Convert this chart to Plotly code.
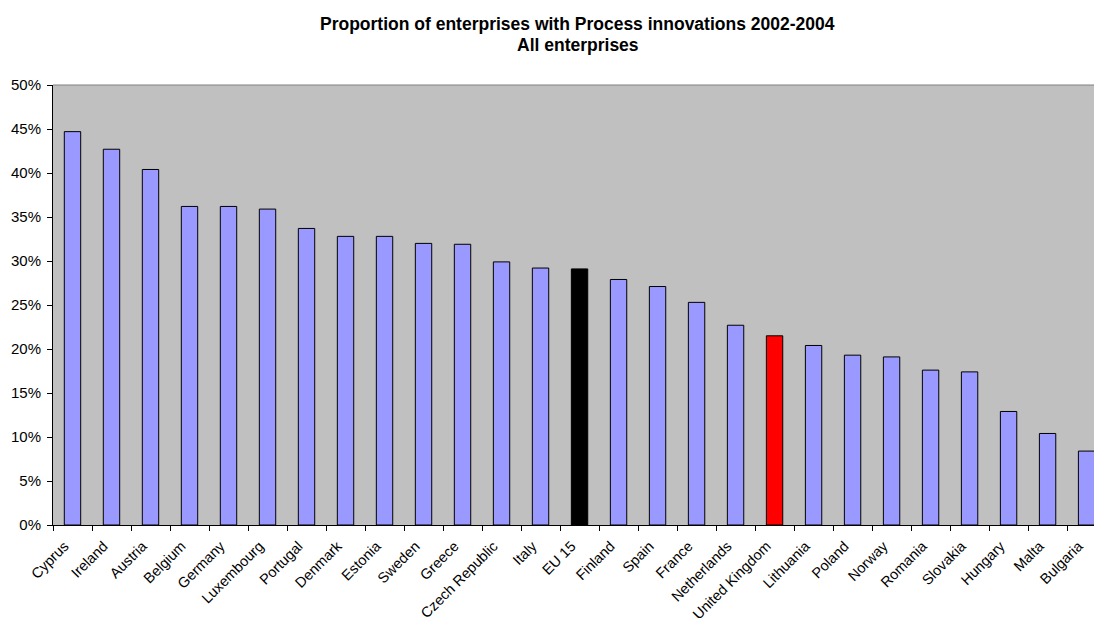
import plotly.graph_objects as go

countries = ["Cyprus", "Ireland", "Austria", "Belgium", "Germany", "Luxembourg",
             "Portugal", "Denmark", "Estonia", "Sweden", "Greece", "Czech Republic",
             "Italy", "EU 15", "Finland", "Spain", "France", "Netherlands",
             "United Kingdom", "Lithuania", "Poland", "Norway", "Romania",
             "Slovakia", "Hungary", "Malta", "Bulgaria"]
share = [0.447, 0.427, 0.404, 0.362, 0.362, 0.359,
         0.337, 0.328, 0.328, 0.320, 0.319, 0.299,
         0.292, 0.291, 0.279, 0.271, 0.253, 0.227,
         0.215, 0.204, 0.193, 0.191, 0.176,
         0.174, 0.129, 0.104, 0.084]
y_ticks = [0, 0.05, 0.10, 0.15, 0.20, 0.25, 0.30, 0.35, 0.40, 0.45, 0.50]
title_lines = ["Proportion of enterprises with Process innovations 2002-2004",
               "All enterprises"]

highlight = {"EU 15": "#000000", "United Kingdom": "#FF0000"}
colors = [highlight.get(c, "#9999FF") for c in countries]

fig = go.Figure(go.Bar(
    x=countries, y=share,
    marker=dict(color=colors, line=dict(color="#000000", width=1)),
    width=0.42,
))

# two-line heading, each line placed on its own
annotations = [
    dict(text="<b>%s</b>" % line, xref="paper", yref="paper",
         x=0.5043, y=yy, xanchor="center", yanchor="middle",
         showarrow=False, font=dict(size=17.5))
    for line, yy in zip(title_lines, [1.138, 1.0915])
]

fig.update_layout(
    width=1094, height=621,
    margin=dict(l=53, r=0, t=85, b=96),
    paper_bgcolor="white", plot_bgcolor="#C0C0C0",
    font=dict(family="Liberation Sans, Arial, sans-serif", color="#000000"),
    showlegend=False,
    annotations=annotations,
    xaxis=dict(
        type="category", range=[-0.5, 26.19],
        tickson="boundaries", ticks="outside", ticklen=5, tickcolor="#000000",
        tickangle=-45, tickfont=dict(size=14.5),
        ticklabelshift=-8, ticklabelstandoff=6,
        showline=True, linecolor="#000000", linewidth=1,
        showgrid=False,
    ),
    yaxis=dict(
        range=[0, 0.5], tickvals=y_ticks, tickformat=".0%",
        ticks="outside", ticklen=5, tickcolor="#000000",
        tickfont=dict(size=15), ticklabelstandoff=3,
        showline=True, linecolor="#000000", linewidth=1,
        showgrid=False, zeroline=False,
    ),
    shapes=[dict(type="line", xref="paper", yref="paper", x0=0, x1=1, y0=1, y1=1,
                 line=dict(color="#808080", width=1))],
)

fig.write_html("out.html")
